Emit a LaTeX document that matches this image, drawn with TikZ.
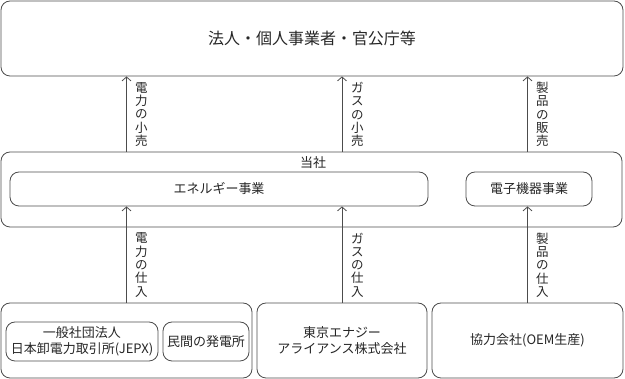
\documentclass[tikz,border=0pt]{standalone}
\usepackage{fontspec}
\setmainfont{Noto Sans CJK JP}
\usetikzlibrary{arrows.meta}

\begin{document}
\begin{tikzpicture}[x=1pt, y=-1pt,
	every node/.style={font=\fontsize{13}{16}\selectfont, text=black!85},
	>={Straight Barb[length=4pt,width=9pt]},
	outerbox/.style={draw=black!70, line width=0.8pt, rounded corners=9pt, inner sep=0pt, align=center},
	innerbox/.style={draw=black!70, line width=0.8pt, rounded corners=9pt, inner sep=0pt, align=center},
	flowlabel/.style={anchor=west, inner sep=0pt, align=center, font=\fontsize{12.5}{13.3}\selectfont},
	flow/.style={->, draw=black!70, line width=0.8pt}]
	\useasboundingbox (0,0) rectangle (625,379);
	% customers
	\node[outerbox, minimum width=622pt, minimum height=75pt, font=\fontsize{16}{19}\selectfont] (customer) at (312,38.5) {法人・個人事業者・官公庁等};
	% company
	\node[outerbox, minimum width=621pt, minimum height=75pt] (company) at (311.5,189.5) {};
	\node (companyname) at (313,163) {当社};
	\node[innerbox, minimum width=418pt, minimum height=34pt] (energy) at (219,189) {エネルギー事業};
	\node[innerbox, minimum width=126pt, minimum height=34pt] (device) at (529,189) {電子機器事業};
	% suppliers
	\node[outerbox, minimum width=251pt, minimum height=75pt] (power) at (126.5,340.5) {};
	\node[innerbox, minimum width=152pt, minimum height=39pt] (jepx) at (82,341.5) {一般社団法人\\日本卸電力取引所(JEPX)};
	\node[innerbox, minimum width=86pt, minimum height=39pt] (plant) at (206,341.5) {民間の発電所};
	\node[outerbox, minimum width=170pt, minimum height=75pt] (gas) at (342,340.5) {東京エナジー\\アライアンス株式会社};
	\node[outerbox, minimum width=191pt, minimum height=75pt] (oem) at (527.5,340.5) {協力会社(OEM生産)};
	% purchases
	\draw[flow] (power.north) -- (power.north |- energy.south);
	\draw[flow] (gas.north) -- (gas.north |- energy.south);
	\draw[flow] (oem.north) -- (oem.north |- device.south);
	\node[flowlabel] (buypower) at (135,265) {電\\力\\の\\仕\\入};
	\node[flowlabel] (buygas) at (351,265) {ガ\\ス\\の\\仕\\入};
	\node[flowlabel] (buyitem) at (536,265) {製\\品\\の\\仕\\入};
	% sales
	\draw[flow] (power.north |- company.north) -- (power.north |- customer.south);
	\draw[flow] (gas.north |- company.north) -- (gas.north |- customer.south);
	\draw[flow] (oem.north |- company.north) -- (oem.north |- customer.south);
	\node[flowlabel] (sellpower) at (135,114.5) {電\\力\\の\\小\\売};
	\node[flowlabel] (sellgas) at (351,114.5) {ガ\\ス\\の\\小\\売};
	\node[flowlabel] (sellitem) at (536,114.5) {製\\品\\の\\販\\売};
\end{tikzpicture}
\end{document}
